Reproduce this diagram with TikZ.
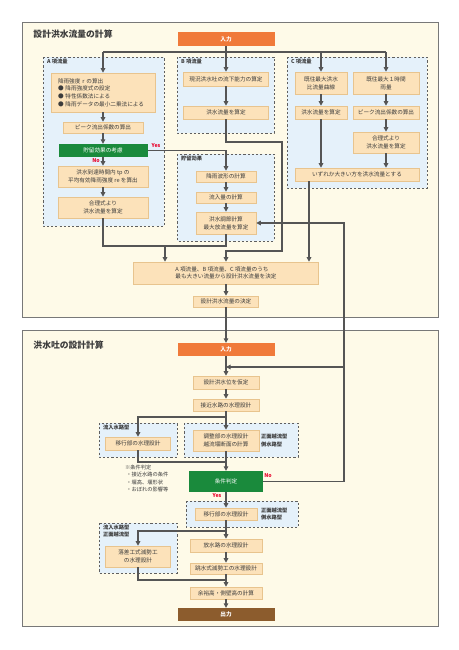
\documentclass[tikz,border=0pt]{standalone}
\usepackage{fontspec}
\setmainfont{Noto Sans CJK JP}
\usetikzlibrary{arrows.meta}

\definecolor{secbg}{RGB}{254,250,232}
\definecolor{secline}{RGB}{120,120,120}
\definecolor{regbg}{RGB}{229,241,250}
\definecolor{regline}{RGB}{95,95,95}
\definecolor{boxbg}{RGB}{252,226,186}
\definecolor{boxline}{RGB}{232,196,142}
\definecolor{inorange}{RGB}{240,122,58}
\definecolor{judgegreen}{RGB}{26,138,60}
\definecolor{outbrown}{RGB}{140,92,45}
\definecolor{yesred}{RGB}{232,0,40}
\definecolor{lnc}{RGB}{85,85,85}
\definecolor{txt}{RGB}{60,60,60}

\newcommand{\bxfont}{\fontsize{8}{11}\selectfont}
\newcommand{\tagfont}{\fontsize{7.5}{10}\selectfont\bfseries}
\newcommand{\ttlfont}{\fontsize{12.5}{14}\selectfont\bfseries}

\tikzset{
  wh/.style 2 args={minimum width=#1*0.5mm, minimum height=#2*0.5mm},
  box/.style={draw=boxline, fill=boxbg, line width=0.8pt, inner sep=0.5mm,
    font=\bxfont, text=txt, align=center},
  inbox/.style={fill=inorange, inner sep=0.5mm, font=\bxfont\bfseries, text=white},
  outbox/.style={fill=outbrown, inner sep=0.5mm, font=\bxfont\bfseries, text=white},
  judgebox/.style={fill=judgegreen, inner sep=0.5mm, font=\bxfont, text=white},
  region/.style={draw=regline, fill=regbg, dashed, line width=1pt},
  section/.style={draw=secline, fill=secbg, line width=1.2pt},
  tag/.style={font=\tagfont, text=txt, anchor=north west, inner sep=0pt, align=left},
  yesno/.style={font=\tagfont, text=yesred, inner sep=0pt},
  wire/.style={draw=lnc, line width=1.5pt},
  flow/.style={wire, -{Triangle[length=2.3mm,width=2.3mm]}},
}

\begin{document}
\begin{tikzpicture}[x=0.5mm,y=-0.5mm]
  \useasboundingbox (0,0) rectangle (459,650);

  % frames
  \draw[section] (22,22) rectangle (438,317);
  \draw[section] (22,330) rectangle (438,626);
  \node[font=\ttlfont, text=txt, anchor=west] (title1) at (31,34) {設計洪水流量の計算};
  \node[font=\ttlfont, text=txt, anchor=west] (title2) at (31,345) {洪水吐の設計計算};

  \draw[region] (43,57) rectangle (164,226);
  \draw[region] (177,57) rectangle (274,133);
  \draw[region] (287,57) rectangle (427,188);
  \draw[region] (177,154) rectangle (274,241);
  \draw[region] (99,423) rectangle (177,457);
  \draw[region] (184,423) rectangle (298,457);
  \draw[region] (186,501) rectangle (298,527);
  \draw[region] (99,523) rectangle (177,573);

  \node[tag] (tagA) at (47,59) {A 項流量};
  \node[tag] (tagB) at (181,59) {B 項流量};
  \node[tag] (tagC) at (291,59) {C 項流量};
  \node[tag] (tagS) at (181,156) {貯留効果};
  \node[tag] (tagP1) at (103,425) {流入水路型};
  \node[tag] (tagP2) at (103,525) {流入水路型\\正面越流型};
  \node[tag, anchor=west] (tagM3) at (261,440.5) {正面越流型\\側水路型};
  \node[tag, anchor=west] (tagM4) at (261,514) {正面越流型\\側水路型};

  % design flood discharge
  \node[inbox, wh={97}{14}] (in1) at (226,39) {入力};

  \node[box, wh={104}{39}, text width=45mm, align=left] (a1) at (103,92.5)
    {降雨強度 r の算出\\● 降雨強度式の設定\\● 特性係数法による\\● 降雨データの最小二乗法による};
  \node[box, wh={80}{11}] (a2) at (103,127.5) {ピーク流出係数の算出};
  \node[judgebox, wh={89}{13}] (a3) at (103,150.5) {貯留効果の考慮};
  \node[box, wh={90}{21}] (a4) at (103,176.5) {洪水到達時間内 tp の\\平均有効降雨強度 re を算出};
  \node[box, wh={90}{21}] (a5) at (103,207.5) {合理式より\\洪水流量を算定};

  \node[box, wh={85}{14}] (b1) at (226,79) {現況洪水吐の流下能力の算定};
  \node[box, wh={85}{13}] (b2) at (226,112.5) {洪水流量を算定};

  \node[box, wh={60}{11}] (s1) at (226,176.5) {降雨波形の計算};
  \node[box, wh={60}{11}] (s2) at (226,197.5) {流入量の計算};
  \node[box, wh={60}{22}] (s3) at (226,223) {洪水調節計算\\最大放流量を算定};

  \node[box, wh={52}{22}] (c1) at (321,83) {既往最大洪水\\比流量曲線};
  \node[box, wh={66}{22}] (c2) at (386,83) {既往最大１時間\\雨量};
  \node[box, wh={52}{13}] (c3) at (321,112.5) {洪水流量を算定};
  \node[box, wh={66}{13}] (c4) at (386,112.5) {ピーク流出係数の算出};
  \node[box, wh={66}{21}] (c5) at (386,142.5) {合理式より\\洪水流量を算定};
  \node[box, wh={124}{13}] (c6) at (357,174.5) {いずれか大きい方を洪水流量とする};

  \node[box, wh={185}{22}, align=left] (big) at (226,273)
    {A 項流量、B 項流量、C 項流量のうち\\最も大きい流量から設計洪水流量を決定};
  \node[box, wh={65}{11}] (dec) at (226,301.5) {設計洪水流量の決定};

  % spillway design
  \node[inbox, wh={97}{13}] (in2) at (226,349.5) {入力};
  \node[box, wh={66}{13}] (m1) at (226,382.5) {設計洪水位を仮定};
  \node[box, wh={66}{12}] (m2) at (226,405) {接近水路の水理設計};
  \node[box, wh={66}{21}] (m3) at (226,440.5) {調整部の水理設計\\越流堰断面の計算};
  \node[box, wh={65}{13}] (p1) at (138,443.5) {移行部の水理設計};
  \node[judgebox, wh={74}{21}] (judge) at (226,481.5) {条件判定};
  \node[box, wh={62}{12}] (m4) at (226,514) {移行部の水理設計};
  \node[box, wh={65}{21}] (p2) at (138,556.5) {落差工式減勢工\\の水理設計};
  \node[box, wh={72}{13}] (m5) at (226,545.5) {放水路の水理設計};
  \node[box, wh={72}{11}] (m6) at (226,568.5) {跳水式減勢工の水理設計};
  \node[box, wh={72}{12}] (m7) at (226,593) {余裕高・側壁高の計算};
  \node[outbox, wh={97}{13}] (out) at (226,614.5) {出力};

  \node[font=\fontsize{7.5}{10.5}\selectfont, text=txt, anchor=north west, inner sep=0pt, align=left]
    (note) at (125,465) {※条件判定\\\ ・接近水路の条件\\\ ・堰高、堰形状\\\ ・おぼれの影響等};

  \node[yesno] (yes1) at (156,146) {Yes};
  \node[yesno] (no1) at (96,160.5) {No};
  \node[yesno] (no2) at (268,476) {No};
  \node[yesno] (yes2) at (217,495.5) {Yes};

  % connectors, upper part
  \coordinate (split) at (226,52);
  \coordinate (bturn) at (282,142);
  \coordinate (bdown) at (282,251);
  \coordinate (amerge) at (165,246);
  \coordinate (cdrop) at (309,0);

  \draw[flow] (in1) -- (b1);
  \draw[wire] (a1.north |- split) -- (c2.north |- split);
  \draw[flow] (a1.north |- split) -- (a1);
  \draw[flow] (c1.north |- split) -- (c1);
  \draw[flow] (c2.north |- split) -- (c2);

  \draw[flow] (a1) -- (a2);
  \draw[flow] (a2) -- (a3);
  \draw[flow] (a3) -- (a4);
  \draw[flow] (a4) -- (a5);
  \draw[flow] (a3.east) -| (s1);

  \draw[flow] (b1) -- (b2);
  \draw[flow] (b2.south) -- (b2.south |- bturn) -- (bturn) -- (bdown) -- (big.north |- bdown) -- (big.north);

  \draw[flow] (s1) -- (s2);
  \draw[flow] (s2) -- (s3);
  \draw[wire] (a5.south) |- (s3.south |- amerge) -- (s3.south);
  \draw[flow] (amerge) -- (amerge |- big.north);

  \draw[flow] (c1) -- (c3);
  \draw[flow] (c3.south) -- (c6.north -| c3.south);
  \draw[flow] (c2) -- (c4);
  \draw[flow] (c4) -- (c5);
  \draw[flow] (c5.south) -- (c6.north -| c5.south);
  \draw[flow] (c6.south -| cdrop) -- (big.north -| cdrop);

  \draw[flow] (big) -- (dec);
  \draw[flow] (dec) -- (in2);

  % connectors, lower part
  \coordinate (loopin) at (344,367);
  \coordinate (loopx) at (344,223);
  \coordinate (fork1) at (226,417);
  \coordinate (join1) at (226,462);
  \coordinate (fork2) at (226,531);
  \coordinate (join2) at (226,580);

  \draw[flow] (in2) -- (m1);
  \draw[flow] (loopin) -- (loopin -| in2);
  \draw[flow] (m1) -- (m2);
  \draw[wire] (m2.south) -- (fork1);
  \draw[flow] (fork1) -- (m3);
  \draw[flow] (fork1) -| (p1);
  \draw[wire] (p1.south) |- (join1);
  \draw[flow] (m3) -- (judge);
  \draw[flow] (judge.east) -| (loopx) -- (s3.east);
  \draw[flow] (judge) -- (m4);
  \draw[wire] (m4.south) -- (fork2);
  \draw[flow] (fork2) -- (m5);
  \draw[flow] (fork2) -| (p2);
  \draw[wire] (p2.south) |- (join2);
  \draw[flow] (m5) -- (m6);
  \draw[flow] (m6) -- (m7);
  \draw[flow] (m7) -- (out);
\end{tikzpicture}
\end{document}
